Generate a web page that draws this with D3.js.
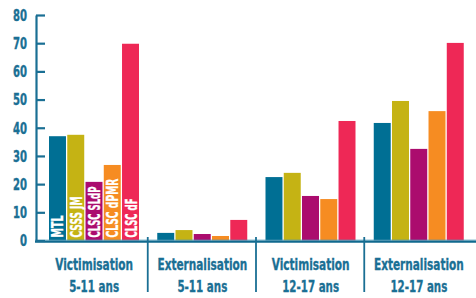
<!DOCTYPE html>
<html><head><meta charset="utf-8">
<script src="https://cdn.jsdelivr.net/npm/d3@7"></script>
<style>
html,body{margin:0;padding:0;background:#fff;}
svg{display:block;}
text{font-family:'Liberation Sans Narrow','DejaVu Sans Condensed','Roboto',sans-serif;font-weight:bold;}
</style></head>
<body><svg id="c" width="476" height="298"></svg>
<script>
const categories = [["Victimisation","5-11 ans"],["Externalisation","5-11 ans"],["Victimisation","12-17 ans"],["Externalisation","12-17 ans"]];
const series = ["MTL","CSSS JM","CLSC SLdP","CLSC dPMR","CLSC dF"];
const colors = ["#006f94","#c5b314","#ab0c6e","#f68c22","#ee2856"];
const valMTL  = [37.0, 2.7, 22.5, 41.7];
const valCSSS = [37.5, 3.7, 24.0, 49.5];
const valSLdP = [20.8, 2.3, 15.8, 32.5];
const valDPMR = [26.8, 1.6, 14.7, 45.9];
const valDF   = [69.8, 7.3, 42.4, 70.1];
const values = [valMTL, valCSSS, valSLdP, valDPMR, valDF];
const yTicks = [0,10,20,30,40,50,60,70,80];
const labelLen = [22, 41, 51, 59, 39];

const ink = "#1a6f94";
const svg = d3.select("#c");
const y = d3.scaleLinear().domain([0,80]).range([240.5,15]);
const catKeys = categories.map((d,i)=>i);
const x0 = d3.scaleBand().domain(catKeys).range([40,473]);
const x1 = d3.scaleBand().domain(series).range([9,99]).paddingInner(0.07);

// fit a text horizontally to a target width by scaling x
function fit(sel, tx, ty, target, rot){
  const node = sel.node();
  const w = node.getComputedTextLength();
  const sx = target / w;
  sel.attr("x",0).attr("y",0)
     .attr("transform", `translate(${tx},${ty})` + (rot ? ` rotate(${rot})` : "") + ` scale(${sx},1)`);
}

// bars
const g = svg.append("g");
catKeys.forEach(ci=>{
  series.forEach((s,si)=>{
    const v = values[si][ci];
    g.append("rect")
      .attr("x", x0(ci)+x1(s))
      .attr("y", y(v))
      .attr("width", x1.bandwidth())
      .attr("height", y(0)-y(v))
      .attr("fill", colors[si]);
  });
});

// baseline
svg.append("line").attr("x1",35).attr("x2",476).attr("y1",240.2).attr("y2",240.2)
  .attr("stroke","#4f98b6").attr("stroke-width",1);
svg.append("line").attr("x1",35).attr("x2",476).attr("y1",241.7).attr("y2",241.7)
  .attr("stroke","#10698e").attr("stroke-width",2);

// y axis
const ax = svg.append("g").attr("transform","translate(36,0)")
  .call(d3.axisLeft(y).tickValues(yTicks).tickSize(-9).tickSizeOuter(0).tickPadding(9));
ax.select(".domain").attr("stroke",ink).attr("stroke-width",2.2);
ax.selectAll(".tick line").attr("stroke",ink).attr("stroke-width",2.2);
ax.selectAll(".tick text").attr("fill",ink).attr("font-size",15)
  .attr("stroke",ink).attr("stroke-width",0.35)
  .attr("dy","0.36em");
ax.selectAll(".tick text").each(function(d){
  const t = d3.select(this);
  const w = this.getComputedTextLength();
  const target = d===0 ? 7 : 14;
  t.attr("x",0).attr("transform",`translate(-9,0) scale(${target/w},1)`);
});

// dividers
catKeys.slice(1).forEach(ci=>{
  svg.append("line").attr("x1",x0(ci)-0.5).attr("x2",x0(ci)-0.5).attr("y1",237).attr("y2",292)
    .attr("stroke",ink).attr("stroke-width",1.8);
});

// category labels
categories.forEach((c,ci)=>{
  const cx = x0(ci)+x0.bandwidth()/2;
  const t1 = svg.append("text").attr("text-anchor","middle")
    .attr("fill",ink).attr("stroke",ink).attr("stroke-width",0.3).attr("font-size",15).text(c[0]);
  fit(t1, cx, 269.5, c[0].length===13 ? 78 : 90);
  const t2 = svg.append("text").attr("text-anchor","middle")
    .attr("fill",ink).attr("stroke",ink).attr("stroke-width",0.3).attr("font-size",15).text(c[1]);
  fit(t2, cx, 291.5, c[1].length===8 ? 50 : 57);
});

// series labels in first group
series.forEach((s,si)=>{
  const bx = x0(0)+x1(s)+x1.bandwidth()-2.5;
  const t = svg.append("text")
    .attr("fill","#fff").attr("stroke","#fff").attr("stroke-width",0.3).attr("font-size",15)
    .text(s);
  fit(t, bx, 237.5, labelLen[si], -90);
});
</script></body></html>
